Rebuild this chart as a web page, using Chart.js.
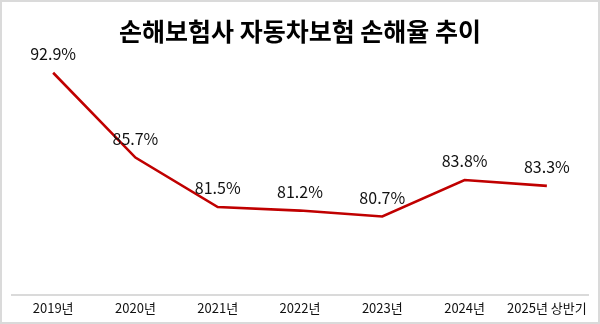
<!DOCTYPE html>
<html lang="ko">
<head>
<meta charset="utf-8">
<title>손해보험사 자동차보험 손해율 추이</title>
<script src="https://cdn.jsdelivr.net/npm/chart.js@4/dist/chart.umd.min.js"></script>
<style>
  html, body { margin: 0; padding: 0; background: #fff; }
  #wrap { width: 600px; height: 324px; position: relative; }
</style>
</head>
<body>
<div id="wrap"><canvas id="lossChart"></canvas></div>
<script>
// 연도별 손해율 (%)
const years = ['2019년', '2020년', '2021년', '2022년', '2023년', '2024년', '2025년 상반기'];
const lossRatio = [92.9, 85.7, 81.5, 81.2, 80.7, 83.8, 83.3];

const KR_FONT = '"Noto Sans CJK KR", "Noto Sans", sans-serif';

// white background + thin gray frame
const framePlugin = {
  id: 'frame',
  beforeDraw(chart) {
    const ctx = chart.ctx;
    ctx.save();
    ctx.fillStyle = '#ffffff';
    ctx.fillRect(0, 0, chart.width, chart.height);
    ctx.restore();
  },
  afterDraw(chart) {
    const ctx = chart.ctx;
    ctx.save();
    ctx.strokeStyle = '#dadada';
    ctx.lineWidth = 2;
    ctx.strokeRect(1, 1, chart.width - 2, chart.height - 2);
    ctx.restore();
  }
};

// value labels above each point
const valueLabels = {
  id: 'valueLabels',
  afterDatasetsDraw(chart) {
    const ctx = chart.ctx;
    const meta = chart.getDatasetMeta(0);
    const values = chart.data.datasets[0].data;
    ctx.save();
    ctx.font = '16px ' + KR_FONT;
    ctx.fillStyle = '#111';
    ctx.textAlign = 'center';
    ctx.textBaseline = 'middle';
    meta.data.forEach((pt, i) => {
      ctx.fillText(values[i].toFixed(1) + '%', pt.x, pt.y - 19);
    });
    ctx.restore();
  }
};

new Chart('lossChart', {
  type: 'line',
  data: {
    labels: years,
    datasets: [{
      data: lossRatio,
      borderColor: '#c00000',
      borderWidth: 2.6,
      pointRadius: 0,
      tension: 0,
      fill: false
    }]
  },
  options: {
    responsive: true,
    maintainAspectRatio: false,
    animation: false,
    layout: { padding: { left: 12, right: 12, top: 0, bottom: 3 } },
    plugins: {
      legend: { display: false },
      tooltip: { enabled: false },
      title: {
        display: true,
        text: '손해보험사 자동차보험 손해율 추이',
        color: '#000',
        font: { family: KR_FONT, size: 25, weight: 'bold' },
        padding: { top: 16, bottom: 2 }
      }
    },
    scales: {
      x: {
        offset: true,
        grid: { display: false, drawTicks: false },
        border: { color: '#dadada', width: 2 },
        ticks: {
          color: '#111',
          font: { family: KR_FONT, size: 13 },
          padding: 5,
          maxRotation: 0,
          autoSkip: false
        }
      },
      y: {
        display: false,
        min: 74,
        max: 95
      }
    }
  },
  plugins: [framePlugin, valueLabels]
});
</script>
</body>
</html>
